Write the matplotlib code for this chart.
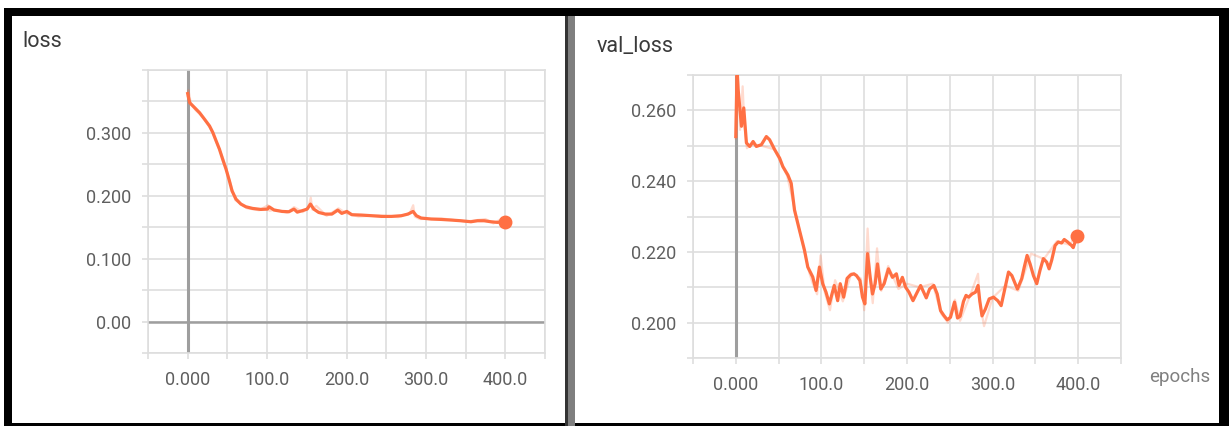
import matplotlib.pyplot as plt
from matplotlib.patches import Rectangle

plt.rcParams['font.family'] = ['Roboto', 'DejaVu Sans']

### ------------------------------- ###
###             0. Data             ###
### ------------------------------- ###

# loss (smoothed curve)
loss_epochs = [0, 2.5, 8.8, 15, 21, 27.5, 31.7, 35.8, 40, 44, 48.3, 52.5, 55.8, 60.8, 67, 73.3,
               81.7, 92, 100.4, 102.5, 108.8, 119, 127.5, 133.8, 138, 144, 150.4, 154.6, 158.8,
               165, 173.3, 181.6, 189, 194, 200.4, 206.7, 219, 231.7, 244, 256.7, 269, 277.5,
               283.8, 288, 294, 306.7, 319, 331.7, 344, 356.7, 365, 373.3, 381.7, 390, 399]
loss_smooth = [0.3625, 0.348, 0.340, 0.332, 0.322, 0.311, 0.3005, 0.2873, 0.274, 0.2582, 0.2423,
               0.2238, 0.2079, 0.1947, 0.1868, 0.1825, 0.1799, 0.1783, 0.1788, 0.1825, 0.1773,
               0.1751, 0.1746, 0.1788, 0.1740, 0.1762, 0.1788, 0.1868, 0.1788, 0.1735, 0.1709,
               0.1709, 0.1772, 0.1720, 0.1751, 0.1699, 0.1693, 0.1683, 0.1672, 0.1672, 0.1683,
               0.1709, 0.1751, 0.1683, 0.1646, 0.1630, 0.1624, 0.1614, 0.1603, 0.1587, 0.1603,
               0.1603, 0.1587, 0.1577, 0.1590]

# loss (raw, drawn faint)
loss_raw_epochs = [0, 1, 4, 10, 20, 30, 45, 60, 75, 90, 101, 103, 110, 125, 134, 145, 152, 155,
                   157, 162, 175, 190, 200, 215, 240, 265, 280, 284, 286, 292, 320, 350, 375, 385,
                   392, 396, 399]
loss_raw = [0.358, 0.368, 0.346, 0.336, 0.324, 0.304, 0.258, 0.193, 0.180, 0.177, 0.185, 0.176,
            0.178, 0.173, 0.182, 0.174, 0.182, 0.197, 0.178, 0.184, 0.168, 0.180, 0.172, 0.167,
            0.169, 0.166, 0.173, 0.185, 0.167, 0.163, 0.164, 0.159, 0.163, 0.156, 0.161, 0.155,
            0.160]

# val_loss (smoothed curve)
val_epochs = [0, 1.5, 2.7, 6.6, 9.3, 12.4, 16.3, 20.2, 24, 29.9, 35.7, 39.5, 45.4, 51.2, 55, 60.9,
              64.7, 68.6, 74.4, 80.2, 84.1, 89.9, 93.8, 97.7, 101.5, 105.4, 109.3, 115, 119, 122,
              126, 130, 134, 138, 141, 145, 148, 150.8, 153.9, 157, 159.7, 162.8, 165.5, 169.4,
              173.3, 178.3, 183, 187.6, 190.7, 194.6, 198.4, 202.3, 207, 210.9, 215.9, 222.5,
              226.4, 231.4, 235.3, 239.2, 243.1, 247, 250.8, 255.5, 259, 262, 266, 269, 272, 276,
              280, 283, 285, 287.6, 291.5, 296, 301, 306, 310, 314.7, 318.6, 322.5, 326.4, 329,
              334, 337, 340.3, 343.8, 347.7, 351.6, 355.4, 359.3, 363.2, 366, 369, 373, 376.7,
              380.6, 383.7, 387.6, 392.2, 394.2, 397, 399]
val_smooth = [0.2526, 0.2720, 0.2660, 0.2555, 0.2607, 0.2508, 0.2498, 0.2512, 0.2498, 0.2503,
              0.2526, 0.2517, 0.2489, 0.2465, 0.2441, 0.2417, 0.2394, 0.2318, 0.2261, 0.2205,
              0.2157, 0.2129, 0.2091, 0.2157, 0.2110, 0.2086, 0.2053, 0.2105, 0.2062, 0.2110,
              0.2072, 0.2125, 0.2135, 0.2138, 0.2133, 0.2119, 0.2072, 0.2053, 0.2195, 0.2128,
              0.2081, 0.2110, 0.2166, 0.2095, 0.2110, 0.2152, 0.2128, 0.2138, 0.2105, 0.2128,
              0.2100, 0.2086, 0.2062, 0.2081, 0.2105, 0.2070, 0.2095, 0.2105, 0.2081, 0.2034,
              0.2020, 0.2008, 0.2015, 0.2058, 0.2013, 0.2018, 0.2060, 0.2077, 0.2072, 0.2081,
              0.2086, 0.2105, 0.2062, 0.2019, 0.2038, 0.2067, 0.2072, 0.2062, 0.2048, 0.2100,
              0.2143, 0.2133, 0.2110, 0.2095, 0.2124, 0.2157, 0.2190, 0.2166, 0.2133, 0.2110,
              0.2148, 0.2181, 0.2171, 0.2152, 0.2176, 0.2218, 0.2228, 0.2225, 0.2235, 0.2228,
              0.2218, 0.2212, 0.2233, 0.2245]

# val_loss (raw, drawn faint)
val_raw_epochs = [0, 1, 3, 5, 8, 10, 13, 18, 30, 45, 60, 75, 86, 90, 95, 99, 104, 110, 116,
                  125, 135, 146, 150, 154, 157, 160, 165, 170, 178, 190, 200, 215, 230, 240,
                  248, 256, 262, 275, 283, 285, 290, 300, 315, 330, 345, 360, 375, 390, 399]
val_raw = [0.2520, 0.2740, 0.2665, 0.2545, 0.2668, 0.2560, 0.2493, 0.2505, 0.2500, 0.2490,
           0.2415, 0.2255, 0.2140, 0.2110, 0.2080, 0.2190, 0.2085, 0.2035, 0.2120, 0.2060,
           0.2140, 0.2125, 0.2035, 0.2266, 0.2120, 0.2055, 0.2210, 0.2090, 0.2160, 0.2095,
           0.2110, 0.2100, 0.2110, 0.2025, 0.2000, 0.2065, 0.2005, 0.2085, 0.2138, 0.2060,
           0.1990, 0.2070, 0.2105, 0.2090, 0.2195, 0.2180, 0.2230, 0.2220, 0.2250]

x_ticks = [-50, 0, 50, 100, 150, 200, 250, 300, 350, 400, 450]
x_labels = ['', '0.000', '', '100.0', '', '200.0', '', '300.0', '', '400.0', '']
loss_yticks = [-0.05, 0.0, 0.05, 0.1, 0.15, 0.2, 0.25, 0.3, 0.35, 0.4]
loss_ylabels = ['', '0.00', '', '0.100', '', '0.200', '', '0.300', '', '']
val_yticks = [0.19, 0.2, 0.21, 0.22, 0.23, 0.24, 0.25, 0.26, 0.27]
val_ylabels = ['', '0.200', '', '0.220', '', '0.240', '', '0.260', '']

### ------------------------------- ###
###             1. Plot             ###
### ------------------------------- ###

W, H = 1229, 426
line_c = '#ff7043'
grid_c = '#dedede'
axis_c = '#9e9e9e'
text_c = '#5f5f5f'

fig = plt.figure(figsize=(W / 100, H / 100), dpi=100)


def px_axes(x0, x1, ytop, ybot):
    return fig.add_axes([x0 / W, 1 - ybot / H, (x1 - x0) / W, (ybot - ytop) / H])


def style(ax, yticks, ylabels, ylim):
    ax.set_xlim(-50, 450)
    ax.set_ylim(*ylim)
    ax.set_xticks(x_ticks)
    ax.set_xticklabels(x_labels)
    ax.set_yticks(yticks)
    ax.set_yticklabels(ylabels)
    ax.grid(True, color=grid_c, lw=1.2)
    ax.set_axisbelow(True)
    for s in ax.spines.values():
        s.set_color(grid_c)
        s.set_linewidth(1.2)
    ax.tick_params(direction='out', length=4, width=1.2, color=grid_c, labelcolor=text_c,
                   labelsize=13)
    ax.tick_params(axis='x', pad=9)
    ax.tick_params(axis='y', pad=8)
    ax.axvline(0, color=axis_c, lw=2.2, zorder=1.5)


ax1 = px_axes(148, 545, 70, 353)
style(ax1, loss_yticks, loss_ylabels, (-0.05, 0.4))
ax1.axhline(0, color=axis_c, lw=1.8, zorder=1.5)
ax1.plot(loss_raw_epochs, loss_raw, color=line_c, lw=1.6, alpha=0.25, zorder=2)
ax1.plot(loss_epochs, loss_smooth, color=line_c, lw=2.3, zorder=3, solid_joinstyle='round')
ax1.plot(loss_epochs[-1], loss_smooth[-1], 'o', color=line_c, ms=9, zorder=4)

ax2 = px_axes(693, 1121, 75, 358)
style(ax2, val_yticks, val_ylabels, (0.19, 0.27))
ax2.plot(val_raw_epochs, val_raw, color=line_c, lw=1.6, alpha=0.25, zorder=2)
ax2.plot(val_epochs, val_smooth, color=line_c, lw=2.3, zorder=3, solid_joinstyle='round')
ax2.plot(val_epochs[-1], val_smooth[-1], 'o', color=line_c, ms=9, zorder=4)

fig.text(22 / W, 1 - 47 / H, 'loss', fontsize=15.5, color='#3a3a3a', va='baseline')
fig.text(597 / W, 1 - 52 / H, 'val_loss', fontsize=15.5, color='#3a3a3a', va='baseline')
fig.text(1149 / W, 1 - 382 / H, 'epochs', fontsize=13.5, color='#808080', va='baseline')

# screenshot frame
def band(x0, x1, y0, y1, c='black'):
    fig.add_artist(Rectangle((x0 / W, 1 - y1 / H), (x1 - x0) / W, (y1 - y0) / H,
                             transform=fig.transFigure, color=c, lw=0))

band(4, 1229, 8, 16)
band(4, 12, 8, 426)
band(1219, 1229, 8, 426)
band(4, 1229, 423, 426)
band(565, 568, 16, 426, '#333333')
band(568, 575, 16, 426, '#7f7f7f')

fig.savefig('out.png', dpi=100)
